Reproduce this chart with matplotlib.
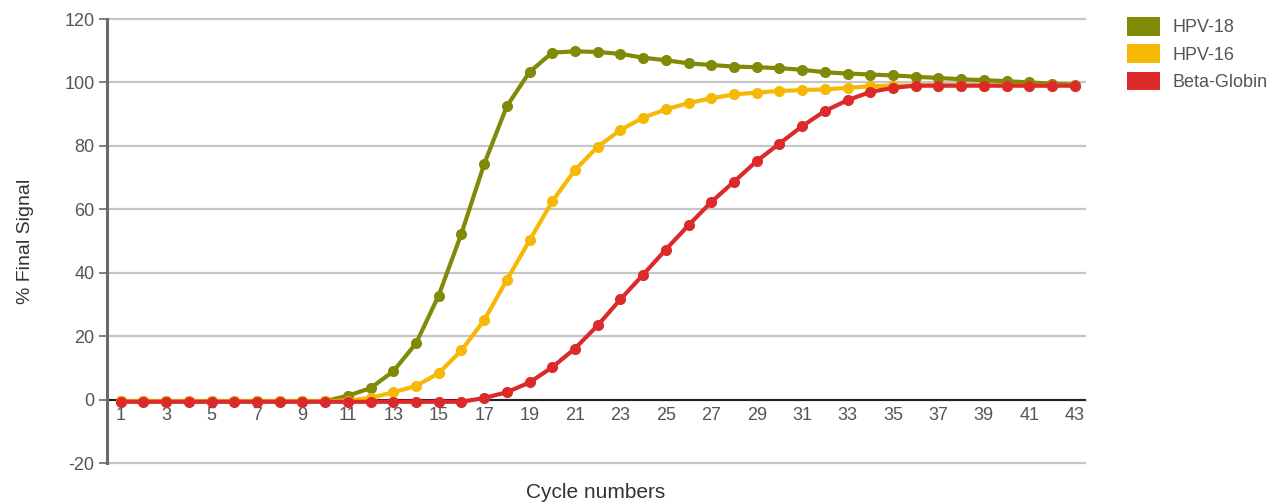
import matplotlib.pyplot as plt
from matplotlib.patches import Patch

plt.rcParams['font.family'] = ['Liberation Sans', 'DejaVu Sans']
plt.rcParams['axes.unicode_minus'] = False

cycles = list(range(1, 44))

hpv18 = [-0.5, -0.5, -0.5, -0.5, -0.5, -0.5, -0.5, -0.5, -0.5, -0.5,
         1.2, 3.6, 8.9, 17.7, 32.8, 52.3, 74.2, 92.5, 103.3, 109.4,
         109.8, 109.6, 109.0, 107.8, 107.0, 106.0, 105.5, 105.0, 104.8, 104.5,
         104.0, 103.2, 102.8, 102.5, 102.2, 101.8, 101.4, 101.0, 100.7, 100.4,
         100.0, 99.6, 99.3]

hpv16 = [-0.5, -0.5, -0.5, -0.5, -0.5, -0.5, -0.5, -0.5, -0.5, -0.5,
         -0.3, 0.5, 2.3, 4.3, 8.3, 15.5, 25.0, 37.7, 50.2, 62.5,
         72.4, 79.7, 85.0, 88.9, 91.5, 93.5, 95.0, 96.2, 96.8, 97.3,
         97.6, 97.8, 98.3, 98.8, 99.0, 99.0, 99.0, 99.0, 99.0, 99.0,
         99.0, 99.0, 99.0]

beta_globin = [-0.7, -0.7, -0.7, -0.7, -0.7, -0.7, -0.7, -0.7, -0.7, -0.7,
               -0.7, -0.7, -0.7, -0.7, -0.7, -0.7, 0.5, 2.3, 5.4, 10.2,
               16.1, 23.4, 31.6, 39.4, 47.3, 55.0, 62.3, 68.7, 75.2, 80.7,
               86.2, 91.0, 94.4, 97.0, 98.3, 99.0, 99.0, 99.0, 99.0, 99.0,
               99.0, 99.0, 99.0]

series_names = ['HPV-18', 'HPV-16', 'Beta-Globin']
series_colors = ['#7f8a06', '#f5b905', '#dc2a2a']
xtick_labels = [str(c) for c in cycles if c % 2 == 1]

fig = plt.figure(figsize=(12.77, 5.04), dpi=100)
ax = fig.add_axes([107 / 1277, 1 - 463 / 504, (1085 - 107) / 1277, (463 - 19) / 504])

text_gray = '#555555'

# gridlines behind everything
for yv in range(-20, 121, 20):
    ax.axhline(yv, color='#c6c6c6', lw=1.6, zorder=0, clip_on=False)

for vals, col in zip([hpv18, hpv16, beta_globin], series_colors):
    ax.plot(cycles, vals, color=col, lw=3, marker='o', markersize=8,
            markeredgewidth=0, zorder=3)

ax.set_ylim(-20, 120)
ax.set_xlim(0.4, 43.45)
ax.set_yticks(range(-20, 121, 20))
ax.set_xticks([c for c in cycles if c % 2 == 1])
ax.set_xticklabels(xtick_labels)

for s in ['top', 'right']:
    ax.spines[s].set_visible(False)
ax.spines['bottom'].set_position(('data', 0))
ax.spines['bottom'].set_color('#222222')
ax.spines['bottom'].set_linewidth(1.5)
ax.spines['bottom'].set_zorder(2)
ax.spines['left'].set_color('#6a6a6a')
ax.spines['left'].set_linewidth(2.2)

ax.tick_params(axis='y', length=6, width=1.2, color='#6a6a6a', pad=3,
               labelsize=13, labelcolor=text_gray)
ax.tick_params(axis='x', length=0, pad=5, labelsize=13, labelcolor=text_gray)

ax.set_ylabel('% Final Signal', fontsize=14, color='#333333', labelpad=22)
ax.set_xlabel('Cycle numbers', fontsize=15, color='#333333')
ax.xaxis.set_label_coords(0.5, -0.045, transform=ax.transAxes)

handles = [Patch(facecolor=c, edgecolor='none') for c in series_colors]
fig.legend(handles, series_names, loc='upper left',
           bbox_to_anchor=(1127 / 1277, 1 - 17 / 504), frameon=False,
           fontsize=13, labelcolor=text_gray, borderpad=0, borderaxespad=0,
           handlelength=1.85, handleheight=1.2, handletextpad=0.65,
           labelspacing=0.45)

fig.savefig('out.png', dpi=100)
